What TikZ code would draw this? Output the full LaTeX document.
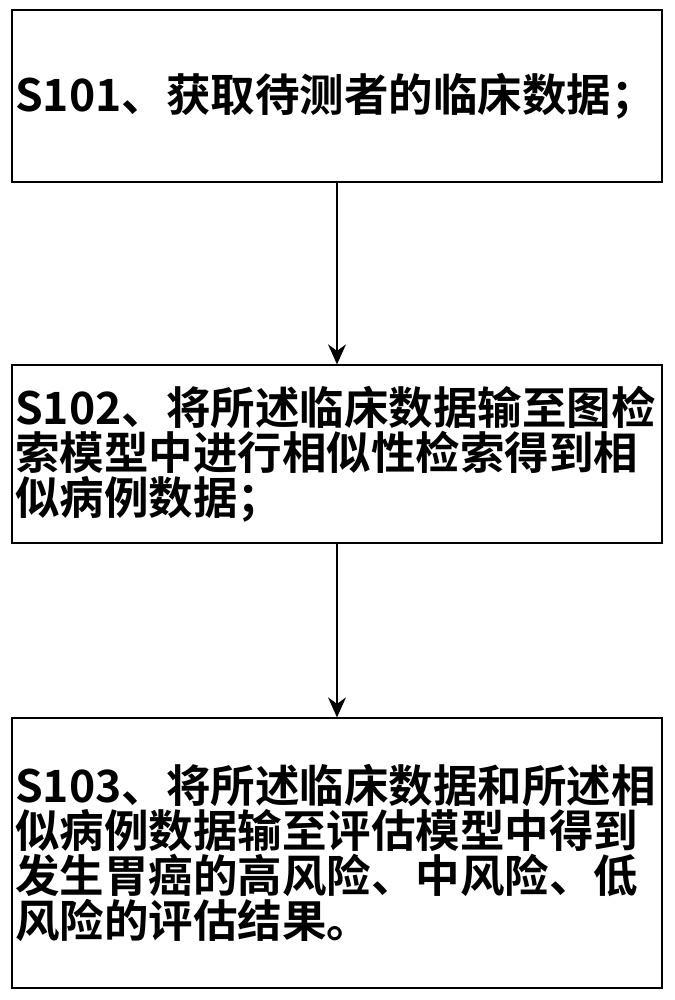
\documentclass[tikz,border=0pt]{standalone}
\usepackage{fontspec}
\newfontfamily\cjk{Noto Sans CJK SC}[BoldFont=* Bold]
\usetikzlibrary{arrows.meta,positioning}

\begin{document}
\begin{tikzpicture}[
    x=1pt, y=-1pt,
    stepbox/.style={draw, line width=1.3pt, minimum width=650pt, text width=644pt,
        inner sep=2pt, align=left, font=\cjk\bfseries\fontsize{44.5}{45}\selectfont},
    flow/.style={-{Stealth[length=20pt,width=18pt]}, line width=1.2pt}
]
    \useasboundingbox (0,0) rectangle (674,1000);
    % three steps, top to bottom
    \node[stepbox, minimum height=172pt] (s1) at (337,96) {S101、获取待测者的临床数据；};
    \node[stepbox, minimum height=178pt] (s2) at (337,454)
        {S102、将所述临床数据输至图检\\索模型中进行相似性检索得到相\\似病例数据；};
    \node[stepbox, minimum height=270pt] (s3) at (337,853)
        {S103、将所述临床数据和所述相\\似病例数据输至评估模型中得到\\发生胃癌的高风险、中风险、低\\风险的评估结果。};

    \draw[flow] (s1) -- (s2);
    \draw[flow] (s2) -- (s3);
\end{tikzpicture}
\end{document}
